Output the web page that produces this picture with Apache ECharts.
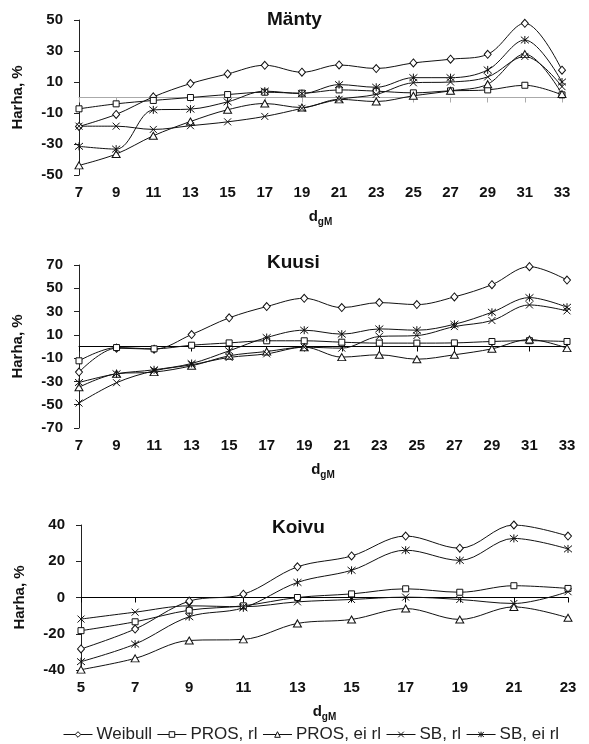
<!DOCTYPE html>
<html><head><meta charset="utf-8">
<script src="https://cdn.jsdelivr.net/npm/echarts@6/dist/echarts.min.js"></script>
<style>html,body{margin:0;padding:0;background:#fff}#c{width:589px;height:744px}</style>
</head><body><div id="c"></div>
<script>
// Series names
const seriesNames = ['Weibull', 'PROS, rl', 'PROS, ei rl', 'SB, rl', 'SB, ei rl'];

// Mänty
const mantyX = [7, 9, 11, 13, 15, 17, 19, 21, 23, 25, 27, 29, 31, 33];
const mantyWeibull = [-18.7, -10.9, 0.4, 9, 15.2, 20.8, 16.3, 21, 18.7, 22.3, 24.7, 27.9, 47.9, 17.6];
const mantyProsRl = [-7.3, -4.1, -1.9, 0, 1.9, 3.4, 2.8, 4.9, 4.1, 3, 4.3, 4.9, 7.9, 1.7];
const mantyProsEiRl = [-43.8, -36.5, -24.7, -15.5, -7.9, -3.9, -6.5, -1.2, -2.6, 1.1, 4.3, 8.6, 28, 2.2];
const mantySbRl = [-18.5, -18.5, -20.6, -18.2, -15.7, -12.2, -7, -1.2, 2, 9.5, 10, 13.3, 26.5, 7];
const mantySbEiRl = [-31.5, -33.3, -8, -7.5, -2.8, 4.1, 2.5, 8.3, 6.6, 12.8, 12.8, 17.8, 37.1, 10];

// Kuusi
const kuusiX = [7, 9, 11, 13, 15, 17, 19, 21, 23, 25, 27, 29, 31, 33];
const kuusiWeibull = [-22, -1.4, -2.3, 10.3, 24.6, 34.3, 41.4, 33.4, 37.7, 36, 42.6, 53.1, 68.6, 57.1];
const kuusiProsRl = [-12.3, -0.9, -2, 1.1, 3.1, 4.9, 4.9, 3.7, 2.9, 2.9, 3.1, 4.3, 5, 4.3];
const kuusiProsEiRl = [-35, -23.4, -22, -16.6, -8, -4.3, -0.6, -9.1, -7.1, -10.9, -7.1, -2, 6, -1.4];
const kuusiSbRl = [-48.6, -31.1, -20.9, -15.7, -9.4, -6.3, -0.6, -1.4, 8.6, 9.4, 17.1, 22.3, 35.7, 30.6];
const kuusiSbEiRl = [-30.9, -23.4, -20, -14.6, -3.7, 7.7, 14, 10.6, 15.1, 14, 19.1, 29.4, 42, 33.7];

// Koivu
const koivuX = [5, 7, 9, 11, 13, 15, 17, 19, 21, 23];
const koivuWeibull = [-28.4, -17.4, -2, 1.8, 16.9, 22.9, 33.9, 27.2, 40, 33.9];
const koivuProsRl = [-18.3, -13.4, -7, -4.6, 0, 2, 4.8, 2.9, 6.5, 5];
const koivuProsEiRl = [-39.8, -33.6, -23.7, -23.1, -14.3, -12.1, -6.1, -12.1, -5.2, -11.2];
const koivuSbRl = [-11.9, -8.1, -4.6, -5.1, -2.4, -1.1, 0.2, -1.1, -3.3, 3.2];
const koivuSbEiRl = [-35.4, -25.7, -10.6, -5.7, 8.3, 15, 26.1, 20.5, 32.6, 26.8];

const panelTitles = ['Mänty', 'Kuusi', 'Koivu'];
const yLimits = [[-50, 50], [-70, 70], [-40, 40]];
const xLimits = [[7, 33], [7, 33], [5, 23]];

const panels = [
  {x: mantyX, s: [mantyWeibull, mantyProsRl, mantyProsEiRl, mantySbRl, mantySbEiRl]},
  {x: kuusiX, s: [kuusiWeibull, kuusiProsRl, kuusiProsEiRl, kuusiSbRl, kuusiSbEiRl]},
  {x: koivuX, s: [koivuWeibull, koivuProsRl, koivuProsEiRl, koivuSbRl, koivuSbEiRl]}
];

const FONT = '"Liberation Sans", Arial, sans-serif';
const symbols = [
  'diamond', 'rect', 'triangle',
  'path://M0,0L10,10M10,0L0,10',
  'path://M0,0L10,10M10,0L0,10M5,-1L5,11'
];
const symbolSizes = [[7, 8], 6, [8, 7], 7, 8];

const grids = [
  {left: 79, right: 27, top: 20, height: 155},
  {left: 79, right: 22, top: 265, height: 163},
  {left: 81, right: 21, top: 525, height: 145}
];
const zeroColors = ['#aaaaaa', '#000', '#000'];

const xAxes = [], yAxes = [], series = [];
panels.forEach((p, i) => {
  xAxes.push({
    gridIndex: i, type: 'value', min: xLimits[i][0], max: xLimits[i][1], interval: 2,
    position: 'bottom',
    axisLine: {show: true, onZero: true, lineStyle: {color: zeroColors[i], width: 1}},
    axisTick: {show: true, length: 5, lineStyle: {color: zeroColors[i]}},
    axisLabel: {show: false}, splitLine: {show: false}
  });
  xAxes.push({
    gridIndex: i, type: 'value', min: xLimits[i][0], max: xLimits[i][1], interval: 2,
    position: 'bottom',
    axisLine: {show: false, onZero: false}, axisTick: {show: false},
    axisLabel: {show: true, margin: 10, color: '#111', fontFamily: FONT, fontWeight: 'bold', fontSize: 15},
    splitLine: {show: false},
    name: '{d|d}{s|gM}', nameLocation: 'middle', nameGap: 34,
    nameTextStyle: {
      color: '#111', fontFamily: FONT,
      rich: {
        d: {fontSize: 15, fontWeight: 'bold', fontFamily: FONT, color: '#111', verticalAlign: 'top', lineHeight: 18},
        s: {fontSize: 10, fontWeight: 'bold', fontFamily: FONT, color: '#111', verticalAlign: 'bottom', lineHeight: 18}
      }
    }
  });
  yAxes.push({
    gridIndex: i, type: 'value', min: yLimits[i][0], max: yLimits[i][1], interval: 20,
    axisLine: {show: true, lineStyle: {color: '#222'}},
    axisTick: {show: true, length: 5, lineStyle: {color: '#222'}},
    axisLabel: {margin: 16, color: '#111', fontFamily: FONT, fontWeight: 'bold', fontSize: 15},
    splitLine: {show: false},
    name: 'Harha, %', nameLocation: 'middle', nameGap: 54,
    nameTextStyle: {color: '#111', fontFamily: FONT, fontWeight: 'bold', fontSize: 15}
  });
  p.s.forEach((vals, k) => {
    series.push({
      name: seriesNames[k], type: 'line', xAxisIndex: 2 * i, yAxisIndex: i,
      data: p.x.map((xv, j) => [xv, vals[j]]),
      smooth: 0.35, symbol: symbols[k], symbolSize: symbolSizes[k], showAllSymbol: true,
      lineStyle: {color: '#111', width: 1},
      itemStyle: {color: '#fff', borderColor: '#111', borderWidth: 1},
      emphasis: {disabled: true}, animation: false, z: 3
    });
  });
});

const titles = panelTitles.map((t, i) => ({
  text: t, left: [262, 262, 267][i], top: [5, 248, 513][i],
  textStyle: {fontFamily: FONT, fontWeight: 'bold', fontSize: 19, color: '#111'}
}));

const chart = echarts.init(document.getElementById('c'), null, {renderer: 'canvas'});
chart.setOption({
  backgroundColor: '#fff',
  animation: false,
  title: titles,
  grid: grids,
  xAxis: xAxes,
  yAxis: yAxes,
  legend: {
    data: seriesNames, top: 726, left: 63, itemWidth: 29, itemHeight: 7, itemGap: 5, padding: 0,
    textStyle: {fontFamily: FONT, fontSize: 17, color: '#222', padding: [0, 0, 0, -1]},
    lineStyle: {color: '#111', width: 1},
    itemStyle: {color: '#fff', borderColor: '#111', borderWidth: 1}
  },
  series: series
});
</script></body></html>
